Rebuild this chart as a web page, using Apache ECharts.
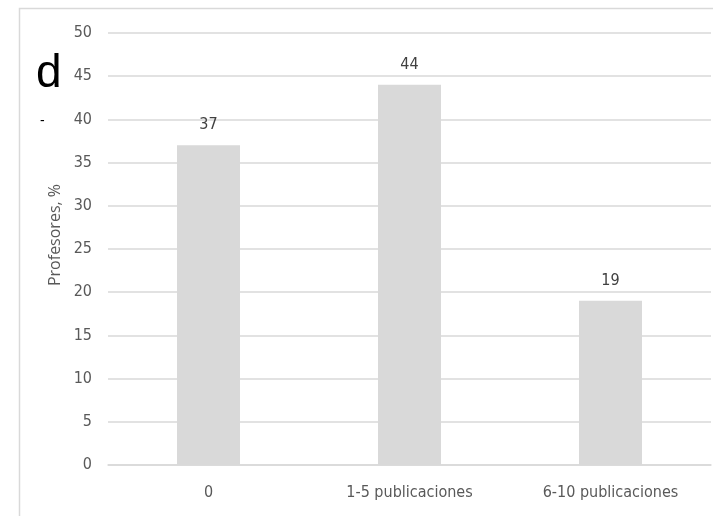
<!DOCTYPE html>
<html><head><meta charset="utf-8">
<script src="https://cdn.jsdelivr.net/npm/echarts@6/dist/echarts.min.js"></script>
<style>html,body{margin:0;padding:0;background:#fff}#c{width:713px;height:516px}</style>
</head><body><div id="c"></div>
<script>
const categories = ['0', '1-5 publicaciones', '6-10 publicaciones'];
const values = [37, 44, 19];
const yTicks = { min: 0, max: 50, interval: 5 };
const yName = 'Profesores, %';
const panelLetter = 'd';

const chart = echarts.init(document.getElementById('c'));
const narrow = '"DejaVu Sans Condensed", "Liberation Sans Narrow", sans-serif';
chart.setOption({
  animation: false,
  backgroundColor: '#fff',
  grid: { left: 108, right: 2, top: 33, bottom: 51 },
  graphic: [
    { type: 'rect', shape: { x: 19.5, y: 8.5, width: 800, height: 600 }, style: { fill: 'none', stroke: '#d9d9d9', lineWidth: 1.5 }, silent: true },
    { type: 'text', left: 36, top: 51, style: { text: panelLetter, font: '46px "Liberation Sans", Arial, sans-serif', fill: '#000' } },
    { type: 'text', left: 40, top: 114, style: { text: '-', font: '14px "Liberation Sans", sans-serif', fill: '#000' } },
    { type: 'text', x: 55, y: 235, rotation: Math.PI / 2, style: { text: yName, font: '16px "Open Sans", sans-serif', fill: '#595959', align: 'center', verticalAlign: 'middle' } }
  ],
  xAxis: {
    type: 'category', data: categories,
    axisLine: { lineStyle: { color: '#d9d9d9', width: 1.5 } },
    axisTick: { show: false },
    axisLabel: { color: '#595959', fontSize: 16, fontFamily: narrow, margin: 20 }
  },
  yAxis: {
    type: 'value', min: yTicks.min, max: yTicks.max, interval: yTicks.interval,
    axisLine: { show: false }, axisTick: { show: false },
    axisLabel: { color: '#595959', fontSize: 16, fontFamily: narrow, margin: 16 },
    splitLine: { lineStyle: { color: '#d9d9d9', width: 1.5 } }
  },
  series: [{
    type: 'bar', data: values, barWidth: 63,
    itemStyle: { color: '#d9d9d9' },
    label: { show: true, position: 'top', distance: 12, color: '#404040', fontSize: 16, fontFamily: narrow }
  }]
});
</script></body></html>
